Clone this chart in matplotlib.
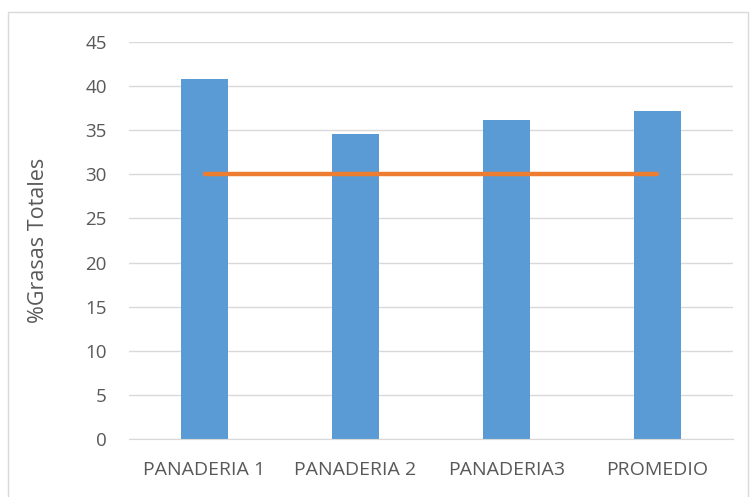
import matplotlib
matplotlib.use("Agg")
import matplotlib.pyplot as plt
from matplotlib.patches import Rectangle

categories = ["PANADERIA 1", "PANADERIA 2", "PANADERIA3", "PROMEDIO"]
grasas = [40.8, 34.6, 36.2, 37.2]
referencia = [30, 30, 30, 30]
yticks = [0, 5, 10, 15, 20, 25, 30, 35, 40, 45]

plt.rcParams['font.family'] = ['Open Sans', 'DejaVu Sans']
txt = '#595959'

fig = plt.figure(figsize=(7.53, 4.97), dpi=100)
fig.patches.append(Rectangle((8/753, -0.05), 740/753, 1 - 12/497 + 0.05,
                             transform=fig.transFigure, fill=False,
                             edgecolor='#d9d9d9', linewidth=1))
ax = fig.add_axes([129/753, 58/497, 604/753, 397/497])

x = list(range(len(categories)))
ax.bar(x, grasas, width=0.31, color='#5B9BD5', zorder=2)
ax.plot(x, referencia, color='#ED7D31', linewidth=3.2, solid_capstyle='round', zorder=3)

ax.set_xlim(-0.5, len(categories) - 0.5)
ax.set_ylim(0, 45)
ax.set_yticks(yticks)
ax.set_yticklabels([str(v) for v in yticks], color=txt, fontsize=13.5)
ax.set_xticks(x)
ax.set_xticklabels(categories, color=txt, fontsize=14)
ax.tick_params(axis='y', length=0, pad=16)
ax.tick_params(axis='x', length=0, pad=16)
ax.grid(axis='y', color='#d9d9d9', linewidth=1, zorder=0)
ax.set_axisbelow(True)
for s in ['top', 'right', 'left']:
    ax.spines[s].set_visible(False)
ax.spines['bottom'].set_color('#d9d9d9')
ax.set_ylabel('%Grasas Totales', color=txt, fontsize=15.5, labelpad=26)

fig.savefig('out.png', dpi=100)
